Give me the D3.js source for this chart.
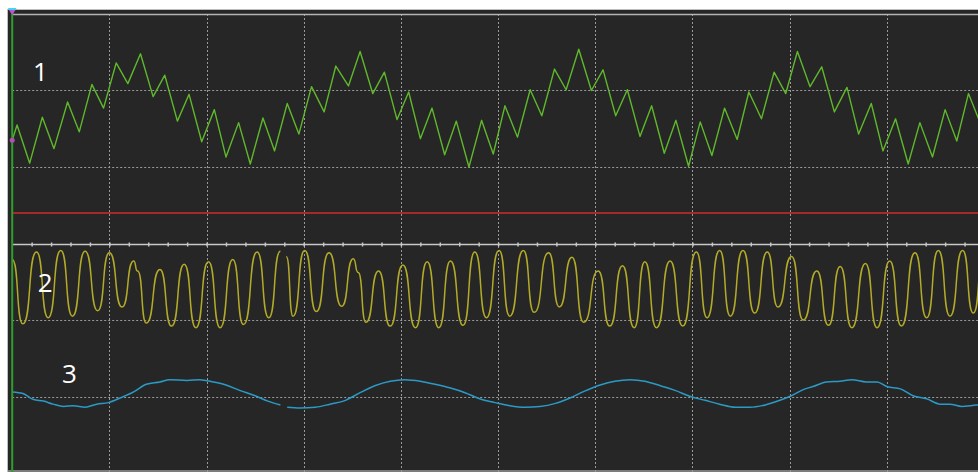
<!DOCTYPE html>
<html>
<head>
<meta charset="utf-8">
<script src="https://cdn.jsdelivr.net/npm/d3@7"></script>
<style>
  html, body { margin: 0; padding: 0; background: #ffffff; overflow: hidden; }
  svg { display: block; }
</style>
</head>
<body>
<div id="scope"></div>
<script>
// scherm is 10 horizontale en 6 verticale divisies, waardes staan in divisies
// [tijd (div), spanning (div)] afgelezen van het scherm
const ch1 = [[0.00,1.35],[0.05,1.55],[0.18,1.05],[0.31,1.65],[0.43,1.24],[0.57,1.85],[0.69,1.46],[0.82,2.08],[0.94,1.77],[1.07,2.36],[1.19,2.09],[1.32,2.48],[1.45,1.92],[1.57,2.20],[1.70,1.60],[1.82,1.95],[1.95,1.33],[2.08,1.75],[2.20,1.13],[2.33,1.58],[2.45,1.04],[2.58,1.64],[2.70,1.21],[2.83,1.83],[2.95,1.43],[3.08,2.05],[3.21,1.72],[3.33,2.32],[3.46,2.06],[3.58,2.51],[3.71,1.96],[3.83,2.24],[3.96,1.62],[4.08,1.98],[4.20,1.37],[4.32,1.77],[4.45,1.16],[4.57,1.60],[4.70,1.00],[4.83,1.61],[4.95,1.17],[5.07,1.80],[5.20,1.39],[5.33,2.01],[5.45,1.67],[5.58,2.28],[5.70,2.01],[5.83,2.54],[5.96,2.00],[6.08,2.27],[6.21,1.67],[6.33,2.01],[6.46,1.40],[6.58,1.80],[6.71,1.18],[6.83,1.61],[6.96,1.01],[7.08,1.59],[7.20,1.15],[7.33,1.77],[7.46,1.36],[7.58,1.98],[7.71,1.63],[7.84,2.24],[7.96,1.96],[8.08,2.51],[8.21,2.05],[8.33,2.31],[8.46,1.72],[8.59,2.04],[8.71,1.43],[8.84,1.83],[8.96,1.21],[9.09,1.63],[9.22,1.04],[9.34,1.58],[9.47,1.13],[9.60,1.75],[9.72,1.34],[9.84,1.96],[9.97,1.55]]

// kanaal 2: toppen en dalen, twee sweeps (scherm springt bij ~2.8 div)
const ch2Sweep1 = [[0.00,-0.21],[0.11,-1.05],[0.25,-0.11],[0.37,-0.97],[0.50,-0.09],[0.62,-0.95],[0.75,-0.10],[0.88,-0.88],[1.00,-0.12],[1.13,-0.83],[1.25,-0.23],[1.29,-0.36],[1.38,-1.04],[1.52,-0.34],[1.64,-1.08],[1.77,-0.27],[1.89,-1.10],[2.02,-0.24],[2.14,-1.10],[2.27,-0.21],[2.38,-1.06],[2.52,-0.11],[2.64,-0.97],[2.76,-0.10]]
const ch2Sweep2 = [[2.82,-0.17],[2.89,-0.95],[3.01,-0.09],[3.13,-0.89],[3.26,-0.12],[3.39,-0.82],[3.51,-0.20],[3.56,-0.38],[3.64,-1.03],[3.77,-0.36],[3.89,-1.08],[4.02,-0.28],[4.15,-1.10],[4.27,-0.24],[4.39,-1.10],[4.51,-0.23],[4.64,-1.07],[4.76,-0.11],[4.88,-0.97],[5.01,-0.09],[5.12,-0.95],[5.26,-0.09],[5.37,-0.90],[5.52,-0.12],[5.63,-0.83],[5.76,-0.18],[5.88,-1.03],[6.03,-0.36],[6.15,-1.08],[6.28,-0.29],[6.40,-1.10],[6.51,-0.24],[6.63,-1.10],[6.77,-0.23],[6.90,-1.08],[7.04,-0.11],[7.15,-0.97],[7.28,-0.09],[7.39,-0.95],[7.52,-0.09],[7.64,-0.91],[7.77,-0.11],[7.88,-0.83],[8.02,-0.17],[8.14,-1.00],[8.28,-0.36],[8.40,-1.07],[8.52,-0.30],[8.64,-1.10],[8.78,-0.26],[8.90,-1.10],[9.03,-0.23],[9.15,-1.08],[9.29,-0.12],[9.41,-0.97],[9.53,-0.09],[9.65,-0.95],[9.78,-0.09],[9.89,-0.91],[10.00,-0.10]]

// kanaal 3: trage golf, ook twee sweeps
const ch3Sweep1 = [[0.00,-1.94],[0.11,-1.96],[0.22,-2.04],[0.32,-2.06],[0.42,-2.10],[0.53,-2.13],[0.63,-2.12],[0.75,-2.14],[0.87,-2.10],[0.99,-2.08],[1.11,-2.02],[1.25,-1.94],[1.38,-1.84],[1.52,-1.81],[1.62,-1.78],[1.80,-1.79],[1.93,-1.78],[2.07,-1.81],[2.20,-1.85],[2.34,-1.92],[2.50,-1.99],[2.63,-2.06],[2.76,-2.11]]
const ch3Sweep2 = [[2.83,-2.14],[2.96,-2.15],[3.12,-2.14],[3.27,-2.10],[3.43,-2.05],[3.58,-1.95],[3.73,-1.86],[3.89,-1.80],[4.04,-1.78],[4.20,-1.80],[4.35,-1.84],[4.51,-1.89],[4.66,-1.95],[4.81,-2.03],[4.97,-2.08],[5.12,-2.12],[5.28,-2.14],[5.43,-2.13],[5.59,-2.09],[5.74,-2.02],[5.89,-1.93],[6.05,-1.85],[6.20,-1.80],[6.36,-1.78],[6.51,-1.80],[6.67,-1.86],[6.82,-1.92],[6.98,-2.00],[7.13,-2.05],[7.28,-2.10],[7.44,-2.14],[7.59,-2.14],[7.75,-2.11],[7.90,-2.05],[8.00,-2.00],[8.14,-1.91],[8.24,-1.87],[8.38,-1.81],[8.52,-1.80],[8.64,-1.78],[8.79,-1.81],[8.90,-1.81],[9.00,-1.87],[9.14,-1.90],[9.27,-1.99],[9.41,-2.03],[9.55,-2.10],[9.65,-2.10],[9.77,-2.13],[9.87,-2.12],[9.93,-2.11],[10.00,-2.11]]

// rode niveaulijn (div) en de kanaalnummers
const triggerLevel = [0.40]
const channelLabels = ['1', '2', '3']

// grid divisies
const xDivs = [1, 2, 3, 4, 5, 6, 7, 8, 9]
const yDivs = [2, 1, -1, -2]

// settings
const width = 978
const height = 472
const plot = { left: 12.2, right: 984, top: 14, bottom: 473 }

const xScale = d3.scaleLinear().domain([0, 10]).range([plot.left, plot.right])
const yScale = d3.scaleLinear().domain([-3, 3]).range([plot.bottom, plot.top])

// eigen curve: tussen twee extremen een S met vlakke uiteinden (blokgolf-achtig)
function curveSquare(context) {
    let x0, y0, started
    return {
        areaStart() {}, areaEnd() {},
        lineStart() { started = false },
        lineEnd() {},
        point(x, y) {
            x = +x; y = +y
            if (!started) { context.moveTo(x, y); started = true }
            else {
                const dx = (x - x0) * 0.64
                context.bezierCurveTo(x0 + dx, y0, x - dx, y, x, y)
            }
            x0 = x; y0 = y
        }
    }
}

const svg = d3.select('#scope')
    .append('svg')
    .attr('width', width)
    .attr('height', height)

// donker scherm
svg.append('rect')
    .attr('x', 8).attr('y', 9)
    .attr('width', width).attr('height', height)
    .attr('fill', '#262626')

// randlijnen boven en links
svg.append('line')
    .attr('x1', 8).attr('x2', width).attr('y1', 9.5).attr('y2', 9.5)
    .attr('stroke', '#bdbdbd').attr('stroke-width', 1)
svg.append('line')
    .attr('x1', 7.5).attr('x2', 7.5).attr('y1', 9).attr('y2', height)
    .attr('stroke', '#bdbdbd').attr('stroke-width', 1)

const g = svg.append('g')

// verticale gridlijnen
g.selectAll('.grid-x')
    .data(xDivs)
    .enter()
    .append('line')
    .attr('class', 'grid-x')
    .attr('x1', d => Math.round(xScale(d)) + 0.5)
    .attr('x2', d => Math.round(xScale(d)) + 0.5)
    .attr('y1', yScale(3)).attr('y2', yScale(-3))
    .attr('stroke', '#9a9a9a')
    .attr('stroke-dasharray', '2,2')

// horizontale gridlijnen
g.selectAll('.grid-y')
    .data(yDivs)
    .enter()
    .append('line')
    .attr('class', 'grid-y')
    .attr('x1', xScale(0)).attr('x2', width)
    .attr('y1', d => Math.round(yScale(d)) + 0.5)
    .attr('y2', d => Math.round(yScale(d)) + 0.5)
    .attr('stroke', '#9a9a9a')
    .attr('stroke-dasharray', '2,2')

// bovenrand van het scherm
g.append('line')
    .attr('x1', xScale(0)).attr('x2', width)
    .attr('y1', yScale(3) + 0.5).attr('y2', yScale(3) + 0.5)
    .attr('stroke', '#b5b5b5').attr('stroke-width', 1.5)

// onderrand
g.append('line')
    .attr('x1', 8).attr('x2', width)
    .attr('y1', height - 1).attr('y2', height - 1)
    .attr('stroke', '#9a9a9a').attr('stroke-width', 1.5)

// middenas met kleine streepjes (d3 axis)
const centerAxis = g.append('g')
    .attr('class', 'axis-center')
    .attr('transform', `translate(0, ${Math.round(yScale(0)) + 0.5})`)
    .call(d3.axisTop(xScale)
        .tickValues(d3.range(1, 50).map(i => i / 5))
        .tickSize(3)
        .tickFormat(''))
centerAxis.select('.domain')
    .attr('d', `M${xScale(0)},0H${width}`)
    .attr('stroke', '#c8c8c8').attr('stroke-width', 1.5)
centerAxis.selectAll('.tick line')
    .attr('stroke', '#c8c8c8').attr('stroke-width', 1.5)
    .attr('y2', -2).attr('y1', 2)

// rode niveaulijn
g.selectAll('.level')
    .data(triggerLevel)
    .enter()
    .append('line')
    .attr('class', 'level')
    .attr('x1', xScale(0)).attr('x2', width)
    .attr('y1', d => yScale(d)).attr('y2', d => yScale(d))
    .attr('stroke', '#a52a2a').attr('stroke-width', 2)

// golfvormen
const lineLinear = d3.line().x(d => xScale(d[0])).y(d => yScale(d[1]))
const lineSquare = d3.line().x(d => xScale(d[0])).y(d => yScale(d[1])).curve(curveSquare)
const lineSmooth = d3.line().x(d => xScale(d[0])).y(d => yScale(d[1])).curve(d3.curveMonotoneX)

g.append('path')
    .attr('d', lineLinear(ch1))
    .attr('fill', 'none').attr('stroke', '#5fb82c').attr('stroke-width', 1.4)
    .attr('stroke-linejoin', 'round')

;[ch2Sweep1, ch2Sweep2].forEach(sweep => {
    g.append('path')
        .attr('d', lineSquare(sweep))
        .attr('fill', 'none').attr('stroke', '#b3ab28').attr('stroke-width', 1.5)
})

;[ch3Sweep1, ch3Sweep2].forEach(sweep => {
    g.append('path')
        .attr('d', lineSmooth(sweep))
        .attr('fill', 'none').attr('stroke', '#2b9ac6').attr('stroke-width', 1.5)
})

// groene lijn links (begin van het scherm)
g.append('line')
    .attr('x1', xScale(0)).attr('x2', xScale(0))
    .attr('y1', 11).attr('y2', height)
    .attr('stroke', '#2f9e2f').attr('stroke-width', 2)

// markers linksboven
g.append('path')
    .attr('d', `M${xScale(0) - 4},9 L${xScale(0) + 4},9 L${xScale(0)},15 Z`)
    .attr('fill', '#c050d0')
g.append('line')
    .attr('x1', xScale(0) - 4).attr('x2', xScale(0) + 4).attr('y1', 9).attr('y2', 9)
    .attr('stroke', '#40d8e8').attr('stroke-width', 2)
g.append('circle')
    .attr('cx', xScale(0)).attr('cy', yScale(ch1[0][1]))
    .attr('r', 2.5).attr('fill', '#b050b0')

// kanaalnummers
const labelPos = [[0.29, 2.12], [0.34, -0.64], [0.59, -1.83]]
g.selectAll('.ch-label')
    .data(channelLabels)
    .enter()
    .append('text')
    .attr('class', 'ch-label')
    .attr('x', (d, i) => xScale(labelPos[i][0]))
    .attr('y', (d, i) => yScale(labelPos[i][1]))
    .attr('text-anchor', 'middle')
    .attr('fill', '#ffffff')
    .attr('font-family', 'Open Sans, Noto Sans, sans-serif')
    .attr('font-size', 26)
    .text(d => d)
</script>
</body>
</html>
